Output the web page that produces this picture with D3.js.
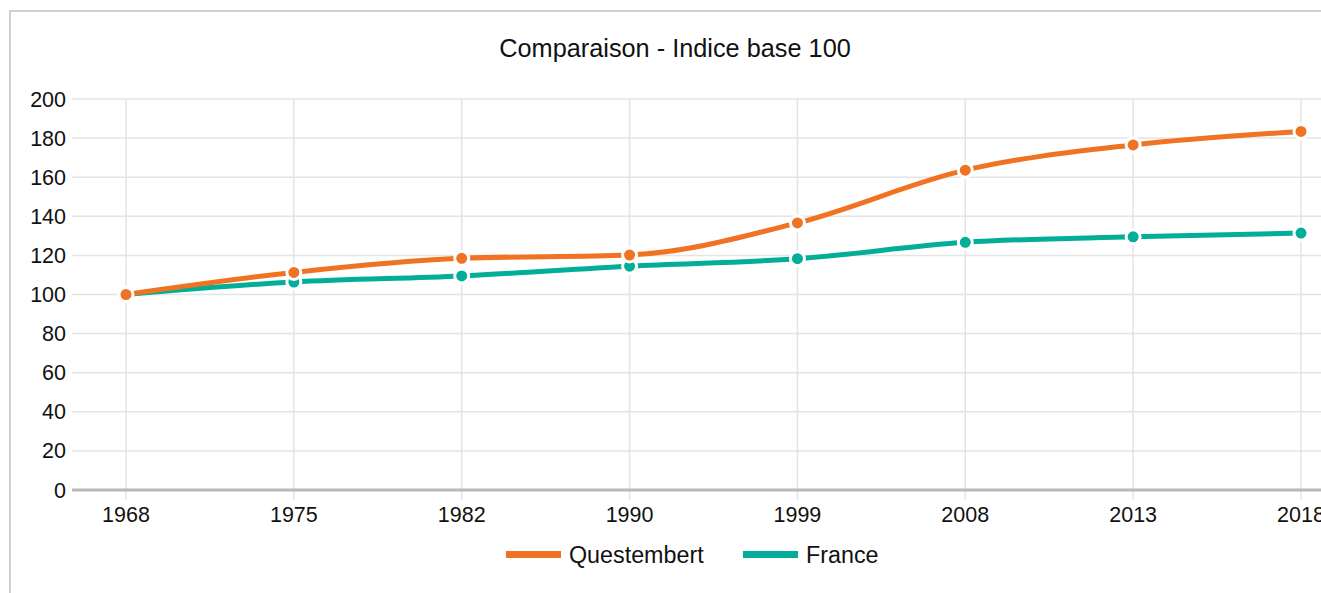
<!DOCTYPE html>
<html><head><meta charset="utf-8">
<script src="https://cdn.jsdelivr.net/npm/d3@7"></script>
<style>
html,body{margin:0;padding:0;background:#fff;}
svg{display:block;font-family:"Liberation Sans",Arial,Helvetica,sans-serif;}
</style></head>
<body>
<svg id="c" width="1321" height="593"></svg>
<script>
const years = ["1968","1975","1982","1990","1999","2008","2013","2018"];
const questembert = [100, 111.3, 118.5, 120.2, 136.6, 163.6, 176.5, 183.4];
const france = [100, 106.4, 109.5, 114.5, 118.3, 126.7, 129.5, 131.4];
const yTicks = [0,20,40,60,80,100,120,140,160,180,200];
const seriesNames = ["Questembert","France"];
const seriesColors = ["#ef7322","#02ae98"];

const svg = d3.select("#c");
// frame
svg.append("path").attr("d","M10,593 V11 H1321").attr("fill","none").attr("stroke","#cfcfcf").attr("stroke-width",2);

const x = d3.scalePoint().domain(years).range([126,1301]);
const y = d3.scaleLinear().domain([0,200]).range([490,99]);

svg.append("text").attr("x",675).attr("y",57).attr("text-anchor","middle")
  .attr("font-size",25.3).attr("fill","#111").text("Comparaison - Indice base 100");

// grid
const g = svg.append("g");
g.selectAll("line.h").data(yTicks.filter(d=>d>0)).join("line")
  .attr("x1",72).attr("x2",1321).attr("y1",d=>y(d)).attr("y2",d=>y(d))
  .attr("stroke","#e4e4e4").attr("stroke-width",1.5);
g.selectAll("line.v").data(years).join("line")
  .attr("x1",d=>x(d)).attr("x2",d=>x(d)).attr("y1",99).attr("y2",500)
  .attr("stroke","#e4e4e4").attr("stroke-width",1.5);
g.append("line").attr("x1",72).attr("x2",1321).attr("y1",y(0)).attr("y2",y(0))
  .attr("stroke","#b8b8b8").attr("stroke-width",3);

// y labels
svg.append("g").selectAll("text").data(yTicks).join("text")
  .attr("x",66).attr("y",d=>y(d)).attr("dy","0.35em").attr("text-anchor","end")
  .attr("font-size",21.5).attr("fill","#111").text(d=>d);
// x labels
svg.append("g").selectAll("text").data(years).join("text")
  .attr("x",d=>x(d)).attr("y",522).attr("text-anchor","middle")
  .attr("font-size",21.5).attr("fill","#111").text(d=>d);

const line = d3.line().x((d,i)=>x(years[i])).y(d=>y(d)).curve(d3.curveMonotoneX);
const data = [questembert, france];
// draw France first, Questembert on top
[1,0].forEach(k=>{
  const s = data[k];
  const gg = svg.append("g");
  gg.append("path").attr("d",line(s)).attr("fill","none").attr("stroke",seriesColors[k]).attr("stroke-width",5);
  gg.selectAll("circle").data(s).join("circle")
    .attr("cx",(d,i)=>x(years[i])).attr("cy",d=>y(d)).attr("r",7)
    .attr("fill",seriesColors[k]).attr("stroke","#fff").attr("stroke-width",3);
});

// legend
const lg = svg.append("g");
const legX = [506,743];
seriesNames.forEach((n,k)=>{
  lg.append("rect").attr("x",legX[k]).attr("y",551).attr("width",55).attr("height",7).attr("fill",seriesColors[k]);
  lg.append("text").attr("x",legX[k]+63).attr("y",555).attr("dy","0.35em")
    .attr("font-size",23.3).attr("fill","#111").text(n);
});
</script>
</body></html>
